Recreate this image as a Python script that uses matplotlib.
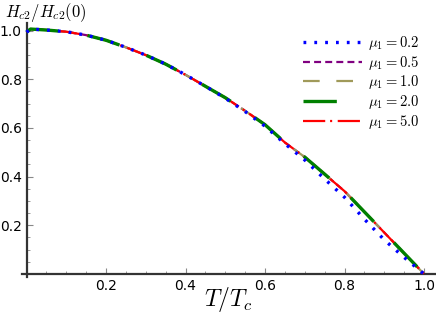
import matplotlib
matplotlib.use('Agg')
import matplotlib.pyplot as plt
from matplotlib.ticker import FixedLocator

plt.rcParams['mathtext.fontset'] = 'cm'
plt.rcParams['lines.scale_dashes'] = False

# curva comum (mu1 = 0.5, 1.0, 2.0, 5.0 praticamente coincidem)
t = [0.0, 0.01, 0.05, 0.1, 0.15, 0.2, 0.25, 0.3, 0.35, 0.4, 0.45, 0.5,
     0.55, 0.6, 0.65, 0.7, 0.75, 0.8, 0.85, 0.9, 0.95, 1.0]
h = [0.993, 1.006, 1.002, 0.995, 0.981, 0.96, 0.931, 0.899, 0.862, 0.818,
     0.771, 0.724, 0.67, 0.613, 0.54, 0.48, 0.41, 0.34, 0.255, 0.17, 0.085, 0.0]

# mu1 = 0.2 se afasta perto de Tc
h_02 = [0.993, 1.006, 1.002, 0.995, 0.981, 0.96, 0.931, 0.899, 0.862, 0.818,
        0.771, 0.722, 0.667, 0.607, 0.535, 0.468, 0.39, 0.315, 0.225, 0.14, 0.068, 0.0]

curvas = [
    (r'$\mu_1 = 0.2$', h_02, 'blue', (2.0, 5.8), 2.4, 6),
    (r'$\mu_1 = 0.5$', h, 'purple', (5, 3), 1.6, 1),
    (r'$\mu_1 = 1.0$', h, '#a09a5a', (12, 12), 1.6, 2),
    (r'$\mu_1 = 2.0$', h, 'green', (24, 21), 2.4, 4),
    (r'$\mu_1 = 5.0$', h, 'red', (16, 3.5, 1.5, 4), 1.6, 3),
]

fig = plt.figure(figsize=(4.36, 3.17), dpi=100)
ax = fig.add_axes([0, 0, 1, 1])

for rotulo, yy, cor, tracos, lw, z in curvas:
    ax.plot(t, yy, color=cor, lw=lw, dashes=tracos, label=rotulo, zorder=z)

ax.set_xlim(-0.0667, 1.030)
ax.set_ylim(-0.1766, 1.1253)

for lado in ['top', 'right']:
    ax.spines[lado].set_visible(False)
ax.spines['left'].set_position(('data', 0))
ax.spines['bottom'].set_position(('data', 0))
ax.spines['left'].set_bounds(-0.012, 1.03)
ax.spines['bottom'].set_bounds(-0.011, 1.03)
for lado in ['left', 'bottom']:
    ax.spines[lado].set_color('#333333')
    ax.spines[lado].set_linewidth(1.6)

menores = [i * 0.05 for i in range(1, 21)]
ax.set_xticks([0.2, 0.4, 0.6, 0.8, 1.0])
ax.set_yticks([0.2, 0.4, 0.6, 0.8, 1.0])
ax.xaxis.set_minor_locator(FixedLocator(menores))
ax.yaxis.set_minor_locator(FixedLocator(menores))
ax.tick_params(which='major', direction='in', length=4, width=0.8,
               color='#888888', labelsize=10, pad=3.5)
ax.tick_params(which='minor', direction='in', length=2.5, width=0.6,
               color='#888888')

ax.text(0.0115, 0.962, r'$H_{c2}/H_{c2}(0)$', transform=ax.transAxes,
        fontsize=12, ha='left', va='center')
ax.text(0.523, 0.054, r'$T/T_c$', transform=ax.transAxes,
        fontsize=17, ha='center', va='center')

ax.legend(loc='upper right', bbox_to_anchor=(0.985, 0.925), frameon=False,
          fontsize=10.5, handlelength=4.05, labelspacing=0.12, handletextpad=0.4,
          borderpad=0.2)

fig.savefig('out.png', dpi=100)
